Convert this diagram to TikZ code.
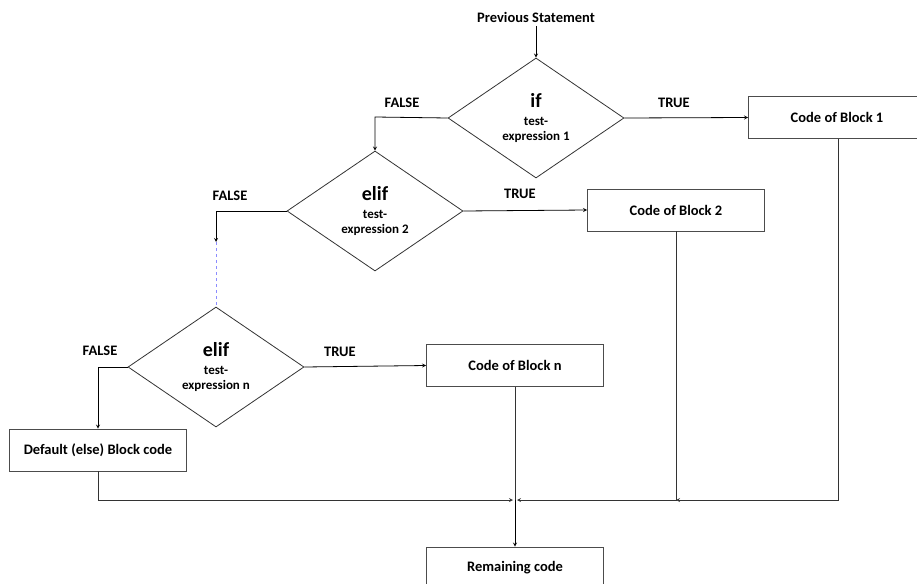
\documentclass[tikz,border=0pt]{standalone}
\usepackage{fontspec}
\setmainfont{Carlito}
\usetikzlibrary{shapes.geometric, positioning}

\tikzset{
    dec/.style={diamond, draw=black!80, minimum width=176pt, minimum height=120pt, inner sep=0pt, align=center},
    blk/.style={rectangle, draw=black!70, minimum width=177pt, minimum height=42pt, inner sep=0pt, font=\bfseries\fontsize{14.5}{16}\selectfont},
    lbl/.style={font=\bfseries\fontsize{14.5}{16}\selectfont},
}
\newcommand{\condsmall}{\fontsize{13}{16}\selectfont}
\newcommand{\condtext}[2]{\fontsize{20}{22}\selectfont #1\\[6pt]\condsmall test-\\[3pt]\condsmall #2}

\begin{document}
\begin{tikzpicture}[x=1pt, y=-1pt, >=stealth, line width=0.8pt, font=\bfseries]
\useasboundingbox (0,0) rectangle (917,583);

\node[lbl] (prev) at (536,17) {Previous Statement};
\node[dec] (d1) at (536,118) {\condtext{if}{expression 1}};
\node[dec] (d2) at (375,211) {\condtext{elif}{expression 2}};
\node[dec] (dn) at (216,367) {\condtext{elif}{expression n}};

\node[blk] (b1) at (837,117.5) {Code of Block 1};
\node[blk] (b2) at (676,210) {Code of Block 2};
\node[blk] (bn) at (515,365.5) {Code of Block n};
\node[blk] (bd) at (98,450) {Default (else) Block code};
\node[blk] (rest) at (515,568) {Remaining code};

\coordinate (f1) at (375,117);
\coordinate (f2) at (216,211);
\coordinate (f3) at (216,242);
\coordinate (fn) at (98,367);
\coordinate (m0) at (98,500);
\coordinate (m1) at (515,500);
\coordinate (m2) at (676,500);
\coordinate (m3) at (838,500);

% main flow
\draw[->] (prev) -- (d1.north);
\draw[->] (d1.west) -- (f1) -- (d2.north);
\draw[->] (d2.west) -- (f2) -- (f3);
\draw[dashed, color=blue!45] (f3) -- (dn.north);
\draw[->] (dn.west) -- (fn) -- (bd.north);

% true branches
\draw[->] (d1.east) -- (b1.west);
\draw[->] (d2.east) -- (b2.west);
\draw[->] (dn.east) -- (bn.west);

\node[lbl] (t1) at (674,103) {TRUE};
\node[lbl] (t2) at (520,194) {TRUE};
\node[lbl] (t3) at (340,352) {TRUE};
\node[lbl] (n1) at (402,103) {FALSE};
\node[lbl] (n2) at (230,196) {FALSE};
\node[lbl] (n3) at (100,351) {FALSE};

% merging
\draw[black!80] (bn.south) -- (m1);
\draw[->] (m1) -- (rest.north);
\draw[->, black!80] (bd.south) -- (m0) -- ([xshift=-2pt]m1);
\draw[->, black!80] (b2.south) -- (m2) -- ([xshift=2pt]m1);
\draw[->, black!80] (b1.south-|m3) -- (m3) -- (m2);

\end{tikzpicture}
\end{document}
